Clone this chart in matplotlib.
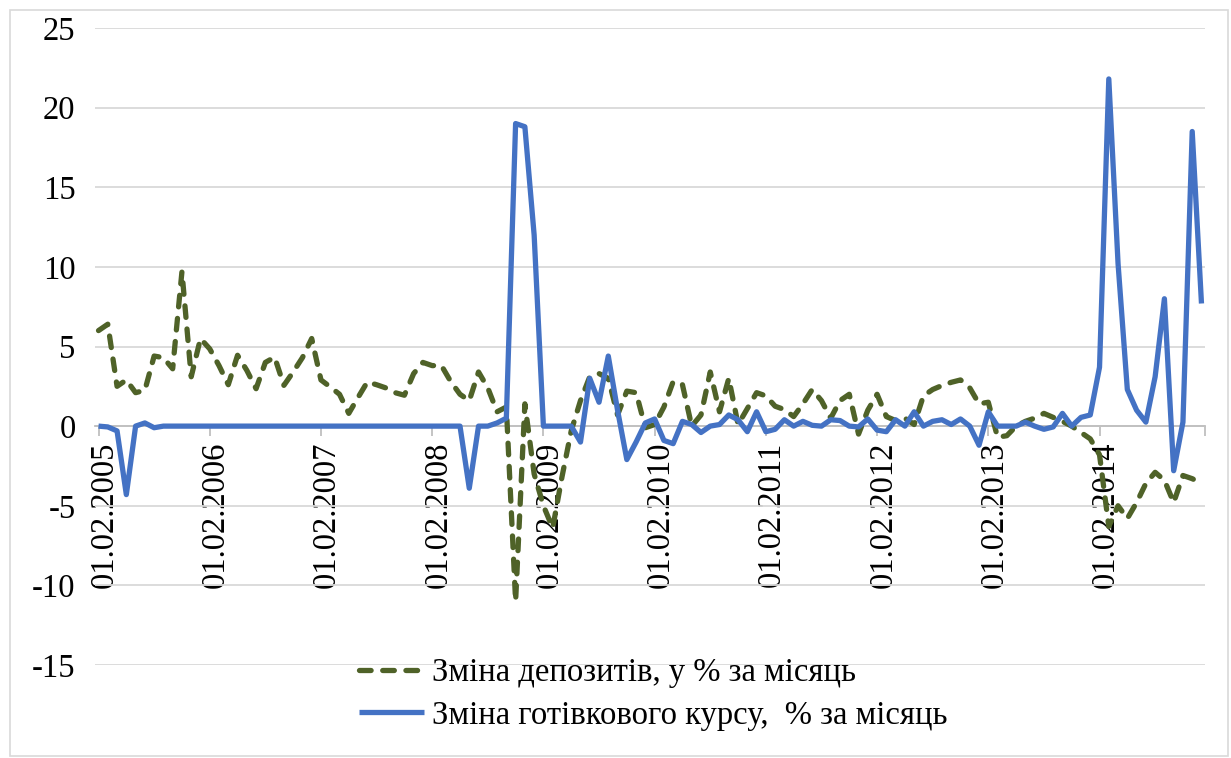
import matplotlib
matplotlib.use("Agg")
import matplotlib.pyplot as plt
import matplotlib.transforms as mtransforms
from matplotlib.patches import Rectangle
import numpy as np

# Monthly change of deposits, % per month (Feb 2005 - Jan 2015)
deposits = [
    6.0, 6.4, 2.5, 2.9, 2.1, 2.25, 4.4, 4.3, 3.6, 9.7, 3.1, 5.5,
    4.85, 3.8, 2.6, 4.45, 3.5, 2.35, 4.0, 4.33, 2.56, 3.4, 4.3, 5.5,
    2.9, 2.46, 2.0, 0.8, 1.8, 2.77, 2.6, 2.4, 2.1, 1.94, 3.3, 4.0,
    3.8, 3.8, 2.8, 2.0, 1.6, 3.4, 2.4, 0.9, 1.2, -11.0, 1.4, -3.0,
    -5.0, -6.4, -3.2, -0.3, 1.6, 3.1, 3.3, 3.0, 0.7, 2.2, 2.1, -0.1,
    0.1, 1.2, 2.8, 2.6, 0.0, 0.7, 3.4, 0.9, 3.0, 0.1, 1.1, 2.1,
    1.9, 1.25, 1.04, 0.6, 1.4, 2.3, 1.6, 0.5, 1.6, 2.0, -0.5, 1.0,
    2.0, 0.6, 0.35, 0.5, 0.1, 1.9, 2.3, 2.55, 2.75, 2.9, 2.4, 1.4,
    1.5, -0.7, -0.6, 0.0, 0.3, 0.5, 0.8, 0.55, 0.3, 0.0, -0.4, -0.8,
    -1.8, -6.3, -5.0, -5.8, -4.8, -3.6, -2.9, -3.4, -4.8, -3.1, -3.3, -3.6,
]

# Monthly change of the cash exchange rate, % per month
fx_rate = [
    0.0, -0.05, -0.3, -4.3, 0.0, 0.2, -0.1, 0.0, 0.0, 0.0, 0.0, 0.0,
    0.0, 0.0, 0.0, 0.0, 0.0, 0.0, 0.0, 0.0, 0.0, 0.0, 0.0, 0.0,
    0.0, 0.0, 0.0, 0.0, 0.0, 0.0, 0.0, 0.0, 0.0, 0.0, 0.0, 0.0,
    0.0, 0.0, 0.0, 0.0, -3.9, 0.0, 0.0, 0.2, 0.5, 19.0, 18.8, 12.0,
    0.0, 0.0, 0.0, 0.0, -1.0, 3.0, 1.5, 4.4, 1.0, -2.1, -1.0, 0.2,
    0.45, -0.9, -1.1, 0.3, 0.1, -0.4, 0.0, 0.1, 0.7, 0.4, -0.35, 0.9,
    -0.35, -0.2, 0.4, 0.0, 0.3, 0.05, 0.0, 0.4, 0.35, 0.0, -0.05, 0.45,
    -0.25, -0.35, 0.4, 0.0, 0.9, 0.0, 0.3, 0.4, 0.1, 0.45, 0.0, -1.2,
    0.9, 0.0, 0.0, 0.0, 0.25, 0.0, -0.2, -0.05, 0.8, 0.0, 0.55, 0.7,
    3.7, 21.8, 10.2, 2.3, 1.0, 0.25, 3.1, 8.0, -2.8, 0.25, 18.5, 7.7,
]

year_labels = ["01.02.2005", "01.02.2006", "01.02.2007", "01.02.2008",
               "01.02.2009", "01.02.2010", "01.02.2011", "01.02.2012",
               "01.02.2013", "01.02.2014"]
y_ticks = [-15, -10, -5, 0, 5, 10, 15, 20, 25]

label_deposits = "Зміна депозитів, у % за місяць"
label_fx = "Зміна готівкового курсу,  % за місяць"

plt.rcParams['font.family'] = ['Liberation Serif', 'DejaVu Serif']
FS = 23.5
W, H = 1231, 758

fig = plt.figure(figsize=(W / 100, H / 100), dpi=100)
ax = fig.add_axes([95 / W, 1 - 665 / H, (1205 - 95) / W, (665 - 28) / H])

x = np.arange(len(deposits))
ax.plot(x, deposits, color='#4F6228', lw=3.8, dashes=(2.2, 2.2),
        dash_capstyle='round', dash_joinstyle='round', label=label_deposits,
        zorder=3)
ax.plot(x, fx_rate, color='#4472C4', lw=3.8, solid_joinstyle='round',
        solid_capstyle='butt', label=label_fx, zorder=4)

ax.set_xlim(-0.38, len(deposits) - 1 + 0.38)
ax.set_ylim(-15, 25)

ax.set_xticks(np.arange(0, len(deposits), 12), labels=year_labels)
ax.set_xticks([len(deposits) - 1 + 0.38], minor=True)
ax.set_yticks(y_ticks, labels=[str(v) for v in y_ticks])

ax.grid(axis='y', color='#D9D9D9', lw=1.3)
ax.set_axisbelow(True)

for side in ('top', 'right', 'left'):
    ax.spines[side].set_visible(False)
ax.spines['bottom'].set_position(('data', 0))
ax.spines['bottom'].set_color('#BFBFBF')
ax.spines['bottom'].set_linewidth(1.3)
ax.spines['bottom'].set_zorder(2)

ax.tick_params(axis='x', which='both', direction='out', length=7, width=1.3,
               color='#BFBFBF', labelsize=FS, labelrotation=90, pad=4)
ax.tick_params(axis='y', length=0, labelsize=FS, pad=14)

shift = mtransforms.ScaledTranslation(6 / 100, 0, fig.dpi_scale_trans)
for lbl in ax.get_xticklabels():
    lbl.set_transform(lbl.get_transform() + shift)

fig.legend(loc='center left', bbox_to_anchor=(359 / W, 1 - 694 / H),
           frameon=False, fontsize=FS, handlelength=2.0, handletextpad=0.25,
           labelspacing=0.37, borderpad=0, borderaxespad=0)

fig.patches.append(Rectangle((10 / W, 2 / H), (1228 - 10) / W, (748 - 2) / H,
                             transform=fig.transFigure, fill=False,
                             edgecolor='#D9D9D9', lw=1.2))

fig.savefig("out.png", dpi=100)
